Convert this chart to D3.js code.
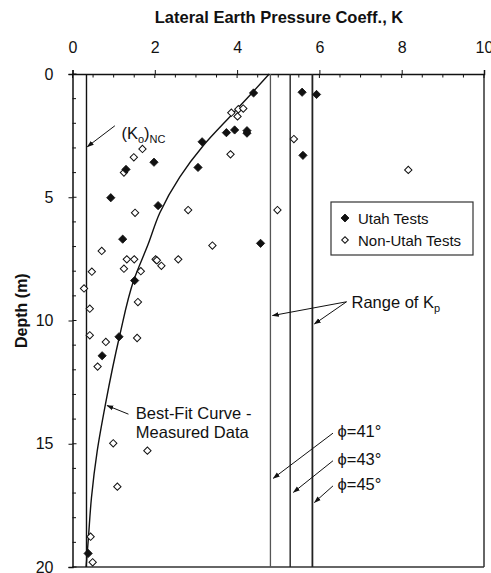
<!DOCTYPE html>
<html>
<head>
<meta charset="utf-8">
<script src="https://cdn.jsdelivr.net/npm/d3@7"></script>
<style>
  html, body { margin: 0; padding: 0; background: #fff; }
  svg { display: block; font-family: "Liberation Sans", Arial, sans-serif; }
</style>
</head>
<body>
<svg id="chart" width="491" height="573"></svg>
<script>
// Lateral earth pressure coefficient K versus depth

// Utah tests: [K, depth (m)]
const utahK     = [4.40, 5.58, 5.93, 3.74, 3.94, 4.24, 4.24, 3.15, 5.60, 1.98, 3.05, 1.30, 0.93, 2.08, 1.22, 4.57, 1.51, 1.13, 0.72, 0.38];
const utahDepth = [0.77, 0.74, 0.83, 2.38, 2.27, 2.30, 2.40, 2.75, 3.30, 3.58, 3.79, 3.87, 5.02, 5.34, 6.70, 6.87, 8.38, 10.66, 11.43, 19.45];

// Non-Utah tests: [K, depth (m)]
const nonUtahK     = [3.86, 4.03, 4.15, 4.01, 3.84, 5.38, 8.16, 1.70, 1.49, 1.25, 1.52, 2.81, 4.98, 0.71, 3.40, 0.47, 1.32, 1.50, 2.02, 2.05, 2.57, 1.25, 1.66, 2.16, 0.28, 1.59, 0.42, 0.42, 1.57, 0.81, 0.61, 0.99, 1.82, 1.09, 0.44, 0.49];
const nonUtahDepth = [1.57, 1.43, 1.40, 1.72, 3.26, 2.64, 3.89, 3.04, 3.38, 4.00, 5.63, 5.52, 5.52, 7.18, 6.96, 8.02, 7.52, 7.52, 7.52, 7.56, 7.52, 7.90, 8.00, 7.78, 8.70, 9.25, 9.52, 10.60, 10.71, 10.87, 11.87, 14.98, 15.28, 16.74, 18.77, 19.81];

// Best-fit curve through the measured data
const fitK     = [4.78, 4.39, 3.90, 3.18, 2.61, 2.12, 1.84, 1.49, 1.14, 0.80, 0.60, 0.46, 0.38, 0.33];
const fitDepth = [0.00, 0.72, 1.60, 2.90, 4.17, 5.64, 6.90, 8.36, 10.66, 13.40, 15.30, 17.20, 18.97, 20.00];

// Reference coefficients
const k0NC = 0.34;                       // (Ko)NC = 1 - sin(41°)
const kpPhi   = [41, 43, 45];
const kpValue = [4.81, 5.29, 5.83];     // tan²(45° + φ/2)

// Axis ticks
const xTicks = [0, 2, 4, 6, 8, 10];
const yTicks = [0, 5, 10, 15, 20];

const svg = d3.select("#chart");
const x = d3.scaleLinear().domain([0, 10]).range([72.5, 484]);
const y = d3.scaleLinear().domain([0, 20]).range([74, 567]);

const ink = "#111";

// Arrowhead marker
svg.append("defs").append("marker")
  .attr("id", "arrow")
  .attr("viewBox", "0 0 10 10")
  .attr("refX", 9).attr("refY", 5)
  .attr("markerWidth", 7).attr("markerHeight", 7)
  .attr("markerUnits", "userSpaceOnUse")
  .attr("orient", "auto")
  .append("path").attr("d", "M0,1.5 L10,5 L0,8.5 Z").attr("fill", ink);

// Plot frame (right and bottom borders)
svg.append("line").attr("x1", x(10)).attr("x2", x(10)).attr("y1", y(0)).attr("y2", y(20))
  .attr("stroke", "#333").attr("stroke-width", 1.5);
svg.append("line").attr("x1", x(0)).attr("x2", x(10)).attr("y1", y(20)).attr("y2", y(20))
  .attr("stroke", "#333").attr("stroke-width", 1.5);

// Top axis
const topAxis = svg.append("g").attr("transform", `translate(0,${y(0)})`)
  .call(d3.axisTop(x).tickValues(xTicks).tickSize(4).tickPadding(17).tickFormat(d3.format("d")));
// Minor and inner ticks on the top axis
svg.append("g").selectAll("line")
  .data(d3.range(0, 10.01, 0.5))
  .join("line")
  .attr("x1", d => x(d)).attr("x2", d => x(d))
  .attr("y1", y(0)).attr("y2", d => y(0) + (d % 2 === 0 ? 4 : 3.5))
  .attr("stroke", ink).attr("stroke-width", 1);

// Left axis
const leftAxis = svg.append("g").attr("transform", `translate(${x(0)},0)`)
  .call(d3.axisLeft(y).tickValues(yTicks).tickSize(4).tickPadding(15).tickFormat(d3.format("d")));
svg.append("g").selectAll("line")
  .data(d3.range(0, 20.01, 1))
  .join("line")
  .attr("x1", x(0)).attr("x2", d => x(0) + (d % 5 === 0 ? 4 : 3.5))
  .attr("y1", d => y(d)).attr("y2", d => y(d))
  .attr("stroke", ink).attr("stroke-width", 1);

[topAxis, leftAxis].forEach(g => {
  g.select(".domain").attr("stroke", ink).attr("stroke-width", 1.5);
  g.selectAll(".tick line").attr("stroke", ink).attr("stroke-width", 1);
  g.selectAll(".tick text").attr("font-size", 16).attr("fill", ink)
    .attr("font-family", "'Liberation Sans', Arial, sans-serif");
});

// Axis titles
svg.append("text").attr("x", 279).attr("y", 23).attr("text-anchor", "middle")
  .attr("font-size", 16.5).attr("font-weight", "bold").attr("fill", ink)
  .text("Lateral Earth Pressure Coeff., K");
svg.append("text").attr("transform", `translate(27,${y(9.6)}) rotate(-90)`)
  .attr("text-anchor", "middle").attr("font-size", 16).attr("font-weight", "bold").attr("fill", ink)
  .text("Depth (m)");

// Reference vertical lines: (Ko)NC and Kp range
svg.append("line").attr("x1", x(k0NC)).attr("x2", x(k0NC)).attr("y1", y(0)).attr("y2", y(20))
  .attr("stroke", ink).attr("stroke-width", 1.4);
const kpStroke = ["#555", "#222", "#222"];
const kpWidth = [1.3, 1.4, 1.8];
svg.append("g").selectAll("line")
  .data(kpValue)
  .join("line")
  .attr("x1", d => x(d)).attr("x2", d => x(d))
  .attr("y1", y(0)).attr("y2", y(20))
  .attr("stroke", (d, i) => kpStroke[i]).attr("stroke-width", (d, i) => kpWidth[i]);

// Best-fit curve
const fitPts = fitK.map((k, i) => [k, fitDepth[i]]);
svg.append("path")
  .datum(fitPts)
  .attr("fill", "none").attr("stroke", ink).attr("stroke-width", 1.4)
  .attr("d", d3.line().x(d => x(d[0])).y(d => y(d[1])).curve(d3.curveMonotoneY));

// Data points
const diamond = (s) => d3.symbol(d3.symbolSquare, s)();
const nonUtah = nonUtahK.map((k, i) => [k, nonUtahDepth[i]]);
const utah = utahK.map((k, i) => [k, utahDepth[i]]);

svg.append("g").selectAll("path")
  .data(nonUtah)
  .join("path")
  .attr("transform", d => `translate(${x(d[0])},${y(d[1])}) rotate(45)`)
  .attr("d", diamond(27))
  .attr("fill", "#fff").attr("stroke", ink).attr("stroke-width", 1);

svg.append("g").selectAll("path")
  .data(utah)
  .join("path")
  .attr("transform", d => `translate(${x(d[0])},${y(d[1])}) rotate(45)`)
  .attr("d", diamond(34))
  .attr("fill", ink).attr("stroke", ink).attr("stroke-width", 0.8);

// Legend
const legend = svg.append("g");
legend.append("rect").attr("x", 331).attr("y", 202).attr("width", 142).attr("height", 53)
  .attr("fill", "#fff").attr("stroke", "#333").attr("stroke-width", 1.2);
legend.append("path").attr("transform", "translate(345,218) rotate(45)").attr("d", diamond(32))
  .attr("fill", ink).attr("stroke", ink).attr("stroke-width", 0.8);
legend.append("path").attr("transform", "translate(345,240) rotate(45)").attr("d", diamond(22))
  .attr("fill", "#fff").attr("stroke", ink).attr("stroke-width", 1);
legend.append("text").attr("x", 358).attr("y", 223.5).attr("font-size", 15).attr("fill", ink).text("Utah Tests");
legend.append("text").attr("x", 358).attr("y", 245.5).attr("font-size", 15).attr("fill", ink).text("Non-Utah Tests");

// Annotations (positions in data units)
function arrow(k1, d1, k2, d2) {
  svg.append("line")
    .attr("x1", x(k1)).attr("y1", y(d1)).attr("x2", x(k2)).attr("y2", y(d2))
    .attr("stroke", ink).attr("stroke-width", 1)
    .attr("marker-end", "url(#arrow)");
}
function label(k, d, parts) {
  const t = svg.append("text").attr("x", x(k)).attr("y", y(d)).attr("font-size", 16.5).attr("fill", ink);
  parts.forEach(p => {
    const s = t.append("tspan").text(p.text);
    if (p.sub) s.attr("font-size", 11).attr("dy", 4);
    if (p.back) s.attr("dy", -4);
  });
}

// (Ko)NC
arrow(1.03, 2.10, k0NC + 0.02, 2.95);
label(1.19, 2.62, [{ text: "(K" }, { text: "o", sub: true }, { text: ")", back: true }, { text: "NC", sub: true }]);

// Best-fit curve
arrow(1.36, 13.80, 0.84, 13.45);
label(1.54, 13.98, [{ text: "Best-Fit Curve -" }]);
label(1.54, 14.78, [{ text: "Measured Data" }]);

// Range of Kp
arrow(6.66, 9.24, kpValue[0] + 0.05, 9.80);
arrow(6.66, 9.24, kpValue[2] + 0.05, 10.14);
label(6.78, 9.50, [{ text: "Range of K" }, { text: "p", sub: true }]);

// Friction angle labels
const phiArrowEnd = [[4.88, 16.40], [5.37, 16.97], [5.88, 17.38]];
const phiLabelDepth = [14.74, 15.86, 16.88];
kpPhi.forEach((phi, i) => {
  arrow(6.33, phiLabelDepth[i] - 0.17, phiArrowEnd[i][0], phiArrowEnd[i][1]);
  label(6.44, phiLabelDepth[i], [{ text: `ϕ=${phi}°` }]);
});
</script>
</body>
</html>
